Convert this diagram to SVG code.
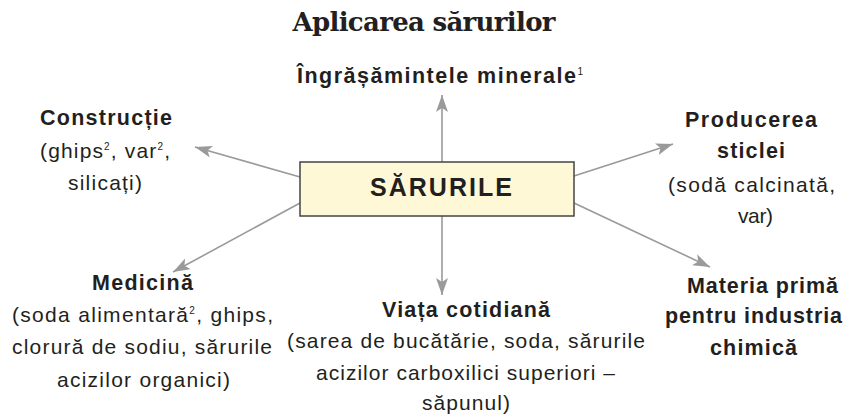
<svg xmlns="http://www.w3.org/2000/svg" width="847" height="416" viewBox="0 0 847 416">
<style>
.t{font-family:"DejaVu Serif",serif;font-weight:bold;font-size:26px;fill:#231f20}
.h{font-family:"Liberation Sans",Arial,sans-serif;font-weight:bold;font-size:21.5px;fill:#231f20}
.b{font-family:"Liberation Sans",Arial,sans-serif;font-size:21px;fill:#231f20}
.c{stroke:#9a9a9a;stroke-width:1.6;fill:none}
.sup{font-size:10px;font-weight:normal}
</style>
<defs>
<marker id="ar" markerUnits="userSpaceOnUse" markerWidth="20" markerHeight="14" refX="17" refY="6" orient="auto">
<path d="M0,0 L17,6 L0,12 L4,6 z" fill="#9a9a9a"/>
</marker>
</defs>
<text class="t" x="424" y="31" text-anchor="middle" textLength="263">Aplicarea sărurilor</text>
<g id="connectors">
<line class="c" x1="442" y1="162" x2="442" y2="95" marker-end="url(#ar)"/>
<line class="c" x1="442" y1="216" x2="442" y2="295" marker-end="url(#ar)"/>
<line class="c" x1="300" y1="177" x2="195" y2="147" marker-end="url(#ar)"/>
<line class="c" x1="300" y1="203" x2="173" y2="272" marker-end="url(#ar)"/>
<line class="c" x1="574" y1="176" x2="673" y2="144" marker-end="url(#ar)"/>
<line class="c" x1="574" y1="203" x2="710" y2="267" marker-end="url(#ar)"/>
</g>
<g id="center">
<rect x="300" y="162" width="274" height="54" fill="#fef8d6" stroke="#444" stroke-width="1.5"/>
<text class="h" x="441" y="196" text-anchor="middle" textLength="142" style="font-size:25px">SĂRURILE</text>
</g>
<g id="ingrasaminte">
<text class="h" x="440" y="83" text-anchor="middle" textLength="286">Îngrășămintele minerale<tspan class="sup" dy="-8">1</tspan></text>
</g>
<g id="constructie">
<text class="h" x="106" y="125" text-anchor="middle" textLength="132">Construcție</text>
<text class="b" x="105" y="158" text-anchor="middle" textLength="130">(ghips<tspan class="sup" dy="-8">2</tspan><tspan dy="8">, var</tspan><tspan class="sup" dy="-8">2</tspan><tspan dy="8">,</tspan></text>
<text class="b" x="105" y="190" text-anchor="middle" textLength="74">silicați)</text>
</g>
<g id="medicina">
<text class="h" x="142.5" y="290" text-anchor="middle" textLength="101">Medicină</text>
<text class="b" x="142.5" y="322" text-anchor="middle" textLength="261">(soda alimentară<tspan class="sup" dy="-8">2</tspan><tspan dy="8">, ghips,</tspan></text>
<text class="b" x="142" y="354" text-anchor="middle" textLength="260">clorură de sodiu, sărurile</text>
<text class="b" x="143.5" y="387" text-anchor="middle" textLength="173">acizilor organici)</text>
</g>
<g id="viata">
<text class="h" x="466" y="317" text-anchor="middle" textLength="168">Viața cotidiană</text>
<text class="b" x="466" y="348" text-anchor="middle" textLength="358">(sarea de bucătărie, soda, sărurile</text>
<text class="b" x="465.5" y="380" text-anchor="middle" textLength="299">acizilor carboxilici superiori –</text>
<text class="b" x="466" y="410" text-anchor="middle" textLength="88">săpunul)</text>
</g>
<g id="sticla">
<text class="h" x="751" y="127" text-anchor="middle" textLength="132">Producerea</text>
<text class="h" x="751" y="158" text-anchor="middle" textLength="68">sticlei</text>
<text class="b" x="751.5" y="192" text-anchor="middle" textLength="167">(sodă calcinată,</text>
<text class="b" x="755.5" y="223" text-anchor="middle" textLength="35">var)</text>
</g>
<g id="materia">
<text class="h" x="762.5" y="293" text-anchor="middle" textLength="151">Materia primă</text>
<text class="h" x="753.5" y="323" text-anchor="middle" textLength="177">pentru industria</text>
<text class="h" x="753.5" y="355" text-anchor="middle" textLength="87">chimică</text>
</g>
</svg>
